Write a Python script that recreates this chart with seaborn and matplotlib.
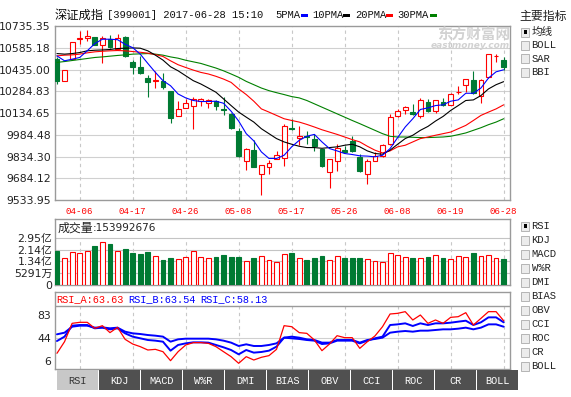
import numpy as np
import matplotlib
matplotlib.use('Agg')
import matplotlib.pyplot as plt
import seaborn as sns
from matplotlib.patches import Rectangle

# daily candles, 60 trading days up to 2017-06-28
opens = [10506, 10353, 10506, 10648, 10655, 10662, 10605, 10644, 10575, 10662,
         10484, 10454, 10376, 10353, 10353, 10285, 10113, 10168, 10182, 10216,
         10207, 10216, 10161, 10125, 10008, 9805, 9876, 9715, 9763, 9818,
         9825, 10033, 9962, 9976, 9958, 9885, 9729, 9800, 9876, 9942,
         9832, 9713, 9805, 9841, 9919, 10115, 10152, 10145, 10113, 10209,
         10147, 10212, 10193, 10278, 10330, 10362, 10255, 10381, 10525, 10502]
highs = [10518, 10431, 10628, 10701, 10705, 10662, 10666, 10671, 10678, 10666,
         10500, 10529, 10399, 10426, 10408, 10285, 10216, 10232, 10243, 10239,
         10232, 10223, 10248, 10134, 10031, 9891, 9951, 9779, 9809, 9869,
         10061, 10090, 10042, 10010, 9992, 9889, 9818, 9924, 9910, 9976,
         9855, 9814, 9866, 9924, 10125, 10164, 10186, 10198, 10239, 10230,
         10225, 10239, 10271, 10324, 10369, 10426, 10369, 10541, 10545, 10518]
lows = [10335, 10353, 10500, 10609, 10632, 10605, 10477, 10586, 10570, 10518,
        10404, 10404, 10243, 10308, 10301, 10065, 10113, 10168, 10022, 10182,
        10170, 10152, 10118, 10026, 9834, 9741, 9759, 9569, 9713, 9814,
        9768, 10019, 9912, 9924, 9873, 9759, 9620, 9734, 9860, 9866,
        9729, 9645, 9805, 9832, 9912, 10106, 10125, 10118, 10099, 10141,
        10134, 10186, 10193, 10266, 10278, 10266, 10202, 10376, 10490, 10431]
closes = [10353, 10431, 10628, 10655, 10669, 10605, 10655, 10591, 10650, 10525,
          10454, 10410, 10351, 10362, 10317, 10102, 10161, 10202, 10228, 10234,
          10223, 10186, 10152, 10031, 9839, 9887, 9763, 9775, 9791, 9843,
          10045, 10026, 9976, 9969, 9905, 9768, 9814, 9896, 9864, 9871,
          9734, 9802, 9839, 9917, 10106, 10147, 10175, 10125, 10225, 10147,
          10221, 10191, 10266, 10282, 10369, 10273, 10365, 10541, 10529, 10449]

ma5 = [10529, 10495, 10506, 10518, 10564, 10614, 10644, 10644, 10641, 10609,
       10586, 10541, 10477, 10415, 10358, 10323, 10266, 10239, 10221, 10214,
       10214, 10216, 10202, 10147, 10079, 9992, 9942, 9866, 9821, 9821,
       9843, 9901, 9946, 9974, 9987, 9935, 9889, 9873, 9855, 9848,
       9839, 9837, 9832, 9843, 9889, 9965, 10038, 10095, 10159, 10170,
       10186, 10191, 10216, 10225, 10271, 10271, 10307, 10376, 10419, 10433]
ma10 = [10545, 10541, 10545, 10552, 10564, 10568, 10570, 10573, 10580, 10582,
        10584, 10582, 10564, 10534, 10500, 10454, 10426, 10392, 10358, 10335,
        10307, 10278, 10232, 10186, 10141, 10106, 10072, 10026, 9992, 9958,
        9935, 9919, 9905, 9896, 9896, 9891, 9896, 9901, 9912, 9919,
        9901, 9873, 9855, 9850, 9878, 9919, 9958, 9981, 10015, 10042,
        10079, 10111, 10152, 10186, 10221, 10225, 10255, 10301, 10330, 10351]
ma20 = [10529, 10534, 10536, 10541, 10550, 10557, 10561, 10564, 10566, 10564,
        10559, 10554, 10548, 10538, 10525, 10495, 10468, 10449, 10431, 10415,
        10404, 10388, 10369, 10346, 10301, 10262, 10216, 10163, 10141, 10118,
        10095, 10083, 10072, 10056, 10038, 10019, 10003, 9987, 9969, 9951,
        9935, 9905, 9878, 9859, 9873, 9901, 9912, 9935, 9958, 9969,
        9981, 9992, 10003, 10026, 10049, 10083, 10118, 10141, 10163, 10191]
ma30 = [10484, 10490, 10497, 10504, 10511, 10518, 10522, 10527, 10532, 10536,
        10541, 10543, 10545, 10541, 10534, 10522, 10513, 10499, 10488, 10477,
        10461, 10445, 10426, 10404, 10381, 10353, 10330, 10307, 10289, 10275,
        10262, 10248, 10239, 10221, 10198, 10175, 10152, 10129, 10106, 10083,
        10061, 10038, 10015, 9992, 9974, 9969, 9969, 9967, 9965, 9965,
        9967, 9969, 9974, 9985, 9997, 10015, 10033, 10054, 10072, 10095]

# volume in 亿 shares
volume = [2.14, 1.66, 2.04, 1.97, 2.10, 2.43, 2.66, 2.56, 2.10, 2.24,
          2.00, 1.93, 2.06, 1.79, 1.56, 1.68, 1.62, 1.72, 2.10, 1.72,
          1.66, 1.75, 1.87, 1.75, 1.75, 1.50, 1.68, 1.79, 1.56, 1.41,
          1.91, 2.02, 1.68, 1.56, 1.68, 1.81, 1.54, 1.79, 1.68, 1.68,
          1.68, 1.62, 1.50, 1.41, 1.97, 1.85, 1.72, 1.68, 1.68, 1.75,
          1.85, 1.68, 1.62, 1.79, 1.72, 2.00, 1.79, 1.85, 1.68, 1.62]
volume_last = '153992676'

rsi_a = [19.0, 38.4, 69.0, 70.7, 70.7, 60.7, 65.1, 53.5, 62.3, 42.3,
         34.5, 30.1, 24.5, 25.6, 21.7, 6.7, 21.7, 32.8, 36.8, 36.8,
         35.6, 30.1, 21.7, 13.4, 2.3, 13.4, 7.8, 12.3, 15.1, 25.6,
         65.1, 63.4, 53.5, 52.3, 41.2, 23.4, 34.5, 48.4, 45.1, 45.1,
         27.3, 38.4, 47.9, 63.4, 84.6, 85.7, 88.5, 74.6, 82.9, 69.0,
         74.6, 69.0, 79.0, 80.1, 86.8, 66.2, 77.3, 88.5, 88.5, 73.4]
rsi_b = [39.5, 46.8, 65.1, 66.2, 66.2, 60.7, 61.8, 59.0, 60.7, 52.3,
         46.8, 44.0, 41.2, 40.1, 38.4, 23.4, 32.9, 35.6, 37.3, 37.3,
         36.8, 32.9, 29.0, 24.5, 17.3, 24.5, 20.1, 21.2, 23.4, 30.1,
         45.1, 44.0, 42.9, 41.2, 40.1, 34.5, 35.6, 40.1, 40.1, 40.1,
         35.6, 40.1, 44.0, 46.8, 66.2, 67.3, 69.0, 64.6, 69.0, 66.2,
         69.0, 69.0, 70.1, 71.8, 73.4, 66.2, 70.7, 79.0, 79.0, 70.7]
rsi_c = [50.7, 53.4, 63.4, 65.1, 65.1, 61.8, 62.3, 60.7, 61.8, 55.1,
         52.3, 51.2, 49.5, 48.4, 46.8, 38.4, 42.3, 43.4, 43.4, 43.4,
         43.4, 42.3, 40.1, 36.8, 31.2, 34.0, 31.2, 31.2, 32.9, 35.6,
         45.1, 46.8, 45.1, 42.3, 41.2, 36.8, 36.8, 41.2, 41.2, 41.2,
         36.8, 41.2, 42.9, 45.1, 53.4, 55.1, 56.2, 55.1, 56.8, 56.8,
         57.9, 59.0, 59.0, 60.1, 61.8, 59.0, 61.8, 67.3, 67.3, 63.4]
rsi_now = ['RSI_A:63.63', 'RSI_B:63.54', 'RSI_C:58.13']

date_pos = [3, 10, 17, 24, 31, 38, 45, 52, 59]
date_labels = ['04-06', '04-17', '04-26', '05-08', '05-17', '05-26', '06-08', '06-19', '06-28']
price_ticks = [9533.95, 9684.12, 9834.30, 9984.48, 10134.65, 10284.83, 10435.00, 10585.18, 10735.35]
vol_ticks = [0, 0.7375, 1.475, 2.2125, 2.95]
vol_labels = ['0', '5291万', '1.34亿', '2.14亿', '2.95亿']
rsi_ticks = [6, 44, 83]
main_inds = ['均线', 'BOLL', 'SAR', 'BBI']
sub_inds = ['RSI', 'KDJ', 'MACD', 'W%R', 'DMI', 'BIAS', 'OBV', 'CCI', 'ROC', 'CR', 'BOLL']

RED = '#ff0000'
GREEN = '#007a33'
BORDER = '#9a9a9a'
GRID = '#d0d0d0'
mono = 'Liberation Mono'

sns.set_theme(style='white')
plt.rcParams['font.family'] = ['DejaVu Sans', 'Noto Sans CJK SC']

W, H = 571, 397
fig = plt.figure(figsize=(W / 100, H / 100), dpi=100)
fig.patch.set_facecolor('white')


def px_axes(l, t, r, b):
    return fig.add_axes([l / W, 1 - b / H, (r - l) / W, (b - t) / H])


def frame(ax):
    for s in ax.spines.values():
        s.set_color(BORDER)
        s.set_linewidth(1.0)
    ax.set_facecolor('white')


x = np.arange(len(closes))
o = np.array(opens, float)
c = np.array(closes, float)
up = c >= o
xmin, xmax = -0.26, 59.84

# ---- main candle chart
ax = px_axes(55, 26, 510, 200)
frame(ax)
ax.set_xlim(xmin, xmax)
ax.set_ylim(price_ticks[0], price_ticks[-1])
for t in price_ticks[1:-1]:
    ax.axhline(t, color=GRID, lw=0.8, zorder=0)
ax.vlines(date_pos, price_ticks[0], price_ticks[-1], colors='#c8c8c8', lw=0.8,
          linestyles=(0, (3, 3)), zorder=0)
cols = np.where(up, RED, GREEN)
ax.vlines(x, lows, highs, colors=cols, lw=0.8, zorder=2)
lo = np.minimum(o, c)
hgt = np.maximum(np.abs(c - o), 1.0)
ax.bar(x[up], hgt[up], bottom=lo[up], width=0.64, facecolor='white', edgecolor=RED, lw=0.8, zorder=3)
ax.bar(x[~up], hgt[~up], bottom=lo[~up], width=0.64, facecolor=GREEN, edgecolor=GREEN, lw=0.8, zorder=3)
for ser, col in [(ma30, '#008000'), (ma20, RED), (ma10, 'black'), (ma5, '#0000ff')]:
    sns.lineplot(x=x, y=ser, ax=ax, color=col, lw=0.8, estimator=None, legend=False, zorder=4)
ax.set_yticks(price_ticks)
ax.set_yticklabels([f'{t:.2f}' for t in price_ticks], fontsize=7.8, color='#222222')
ax.set_xticks(date_pos)
ax.set_xticklabels(date_labels, family=mono, fontsize=6.6, color=RED)
ax.tick_params(axis='both', length=0)
ax.tick_params(axis='y', pad=3)
ax.tick_params(axis='x', pad=5)
ax.set_xlabel('')
ax.set_ylabel('')

# ---- volume
axv = px_axes(55, 219, 510, 285)
frame(axv)
axv.set_xlim(xmin, xmax)
axv.set_ylim(0, 4.117)
for t in vol_ticks[1:]:
    axv.axhline(t, color='#c4c4c4', lw=0.8, zorder=0)
axv.vlines(date_pos, 0, 2.95, colors='#c8c8c8', lw=0.8, linestyles=(0, (3, 3)), zorder=0)
vol = np.array(volume)
axv.bar(x[up], vol[up], width=0.64, facecolor='white', edgecolor=RED, lw=0.8, zorder=3)
axv.bar(x[~up], vol[~up], width=0.64, facecolor=GREEN, edgecolor=GREEN, lw=0.8, zorder=3)
axv.set_xticks([])
axv.set_yticks(vol_ticks)
axv.set_yticklabels(vol_labels, fontsize=7.8, color='#222222')
axv.tick_params(axis='y', length=0, pad=2)
axv.text(0.005, 0.86, '成交量', transform=axv.transAxes, fontsize=8.6,
         family='Noto Sans CJK SC', va='center', color='#222222')
axv.text(0.083, 0.86, ':' + volume_last, transform=axv.transAxes, fontsize=7.6,
         va='center', color='#222222')

# ---- RSI
axr = px_axes(55, 292, 510, 369)
frame(axr)
axr.set_xlim(xmin, xmax)
axr.set_ylim(-7.2, 121.3)
axr.axhline(97.9, color=BORDER, lw=1.0)
axr.axhline(44, color=GRID, lw=0.8, zorder=0)
axr.vlines(date_pos, -7.2, 97.9, colors='#c8c8c8', lw=0.8, linestyles=(0, (3, 3)), zorder=0)
sns.lineplot(x=x, y=rsi_c, ax=axr, color='#0000ff', lw=1.4, estimator=None, legend=False, zorder=3)
sns.lineplot(x=x, y=rsi_b, ax=axr, color='#0000ff', lw=1.4, estimator=None, legend=False, zorder=3)
sns.lineplot(x=x, y=rsi_a, ax=axr, color=RED, lw=0.9, estimator=None, legend=False, zorder=4)
axr.set_xticks([])
axr.set_yticks(rsi_ticks)
axr.set_yticklabels([str(t) for t in rsi_ticks], fontsize=7.8, color='#222222')
axr.tick_params(axis='y', length=0, pad=3)

# ---- overlay for texts, legend, checkboxes and buttons
ov = fig.add_axes([0, 0, 1, 1], zorder=10)
ov.set_xlim(0, W)
ov.set_ylim(H, 0)
ov.axis('off')

ov.text(55, 15, '深证成指', family='Noto Sans CJK SC', fontsize=8.8, va='center', color='#111111')
ov.text(107, 15, '[399001] 2017-06-28 15:10', family=mono, fontsize=7.6, va='center', color='#111111')
for lab, lx, bx, col in [('5PMA', 275, 301, '#0000ff'), ('10PMA', 312, 343, 'black'),
                         ('20PMA', 355, 386, RED), ('30PMA', 397, 430, '#008000')]:
    ov.text(lx, 15, lab, family=mono, fontsize=7.6, va='center', color='#111111')
    ov.add_patch(Rectangle((bx, 13.5), 6.5, 3, color=col, lw=0))

# watermark
ov.text(510, 35, '东方财富网', family='Noto Sans CJK SC', fontsize=10.5, weight='bold',
        color='#d2d2d2', ha='right', va='center')
ov.text(510, 46, 'eastmoney.com', fontsize=6.5, weight='bold', style='italic',
        color='#d2d2d2', ha='right', va='center')

# RSI header
for txt, tx, col in zip(rsi_now, [56, 128, 200], [RED, '#0000ff', '#0000ff']):
    ov.text(tx, 299, txt, family=mono, fontsize=7.4, color=col, va='center')


def checkbox(y, label, checked):
    ov.add_patch(Rectangle((521, y - 4.5), 8, 9, facecolor='#ececec', edgecolor='#b4b4b4', lw=0.7))
    if checked:
        ov.add_patch(Rectangle((523.5, y - 2), 3, 4, facecolor='black', lw=0))
    ov.text(531.5, y, label, family=[mono, 'Noto Sans CJK SC'], fontsize=7.6, va='center', color='#222222')


ov.text(519, 16, '主要指标', family='Noto Sans CJK SC', fontsize=8.6, va='center', color='#222222')
for k, lab in enumerate(main_inds):
    checkbox(32 + 13.4 * k, lab, k == 0)
for k, lab in enumerate(sub_inds):
    checkbox(226 + 14 * k, lab, k == 0)

for k, lab in enumerate(sub_inds):
    bx = 57 + 42 * k
    face = '#c8c8c8' if k == 0 else '#505050'
    tc = '#333333' if k == 0 else 'white'
    ov.add_patch(Rectangle((bx, 370), 41, 20, facecolor=face, lw=0))
    ov.text(bx + 20.5, 380.5, lab, family=mono, fontsize=7.4, color=tc, ha='center', va='center')

fig.savefig('out.png', dpi=100, facecolor='white')
